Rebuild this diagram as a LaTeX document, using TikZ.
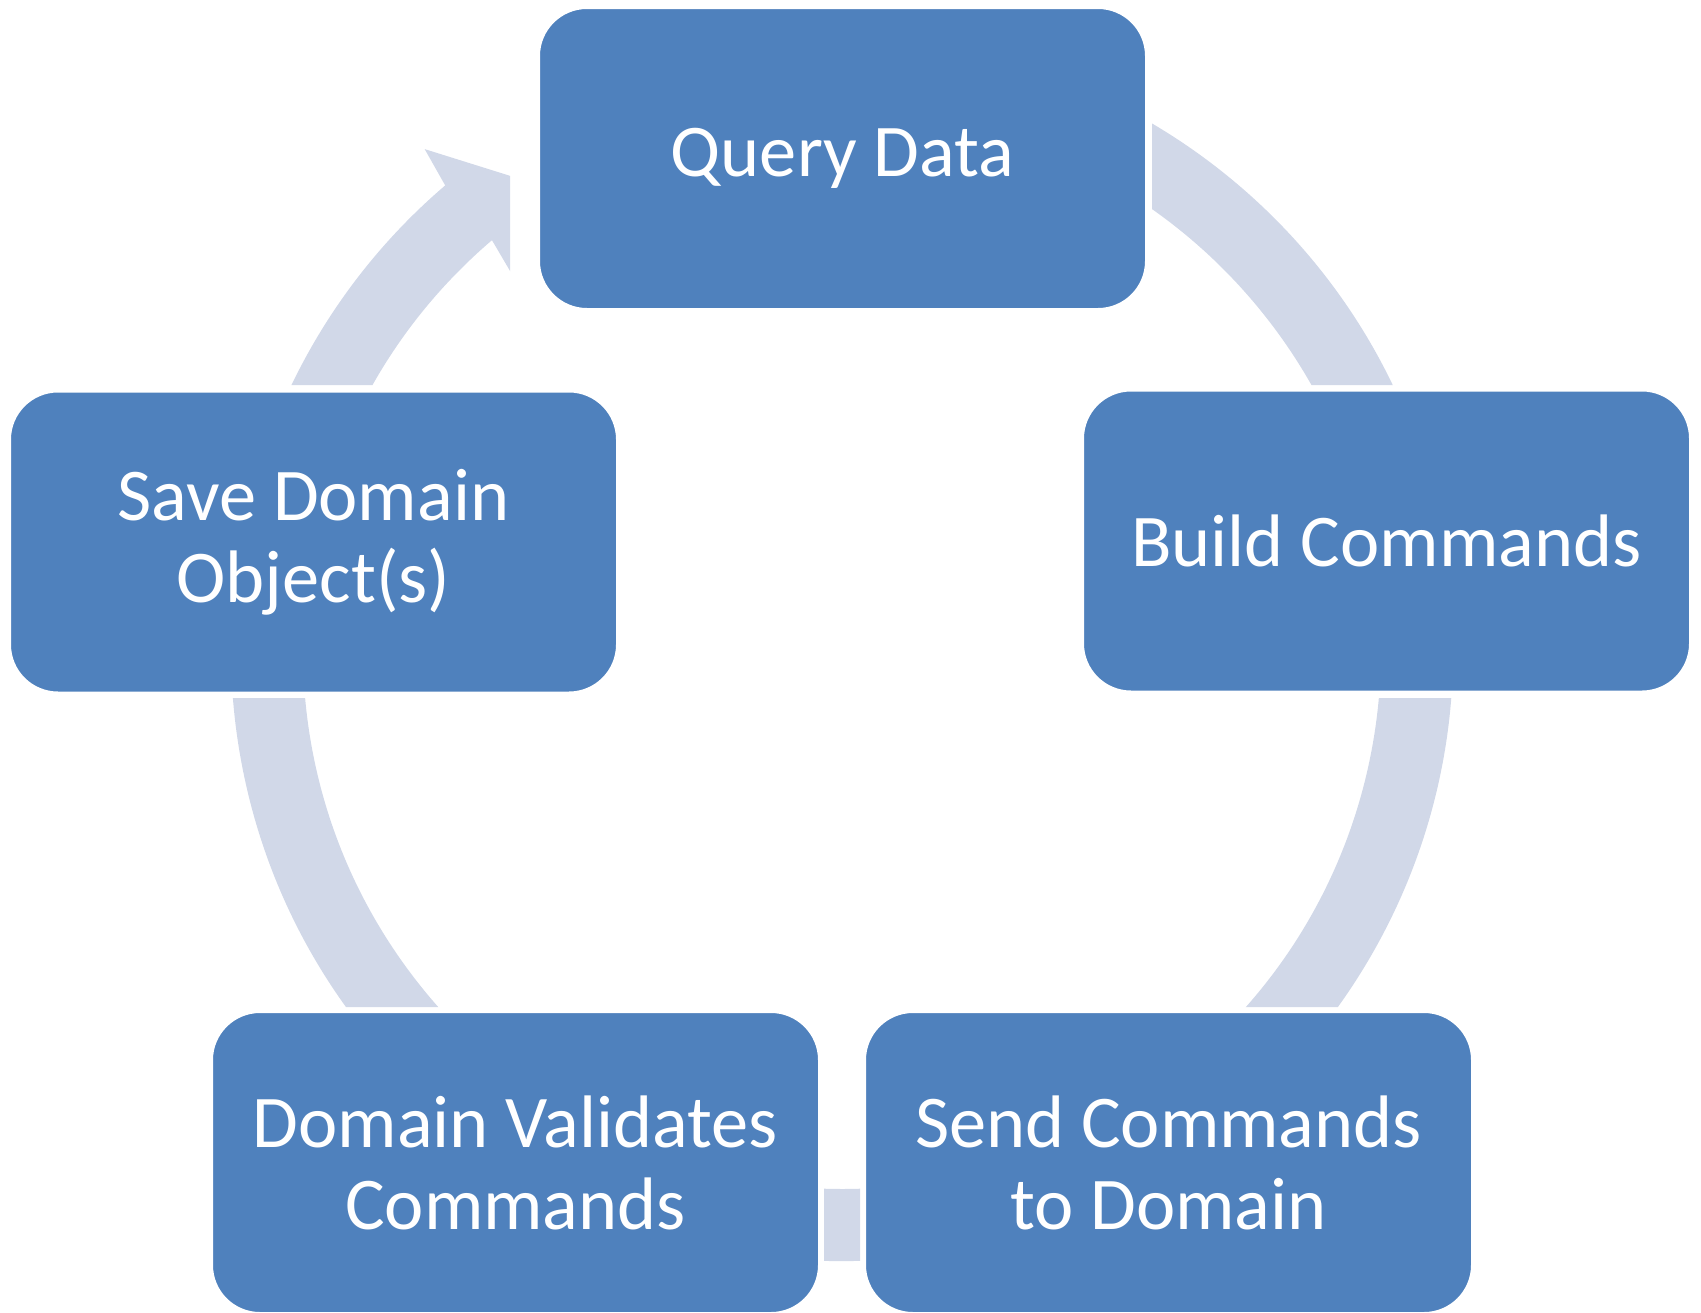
\documentclass[tikz,border=0pt]{standalone}
\usepackage{fontspec}
\setmainfont{Carlito}
\usetikzlibrary{calc}
\definecolor{boxblue}{RGB}{79,129,189}
\definecolor{bandgrey}{RGB}{209,216,232}
\begin{document}
\begin{tikzpicture}[x=0.5pt,y=0.5pt,
  stagebox/.style={rectangle, rounded corners=24pt, fill=boxblue, draw=white,
    line width=1pt, minimum width=303.5pt, minimum height=150.5pt,
    text=white, align=center, inner sep=0pt,
    font=\fontsize{37.2}{41}\selectfont},
  band/.style={fill=bandgrey}]
\useasboundingbox (0,0) rectangle (1701,-1312);
\coordinate (c) at (842,-650);

% circular arrow band, cut short around each stage box
\begin{scope}[even odd rule]
  \clip (-20,20) rectangle (1720,-1330)
    (510,20) rectangle (1152,-315)
    (1077,-385) rectangle (1720,-698)
    (-20,-385) rectangle (623,-698)
    (206,-1007) rectangle (824,-1330)
    (860,-1007) rectangle (1480,-1330);
  \fill[band] ($(c)+(100:611)$)
      arc[start angle=100, end angle=-229.5, radius=611]
      -- ($(c)+(129.8:652)$)
      -- ($(c)+(124.7:575)$)
      -- ($(c)+(132:470)$)
      -- ($(c)+(130.5:539)$)
      arc[start angle=-229.5, end angle=100, radius=539]
      -- cycle;
\end{scope}

% stages of the cycle
\node[stagebox] (query)    at (842.5,-158.5)  {Query Data};
\node[stagebox] (build)    at (1386.5,-541)   {Build Commands};
\node[stagebox] (send)     at (1168.5,-1162.5) {Send Commands\\to Domain};
\node[stagebox] (validate) at (515.5,-1162.5)  {Domain Validates\\Commands};
\node[stagebox] (save)     at (313.5,-542)    {Save Domain\\Object(s)};
\end{tikzpicture}
\end{document}
